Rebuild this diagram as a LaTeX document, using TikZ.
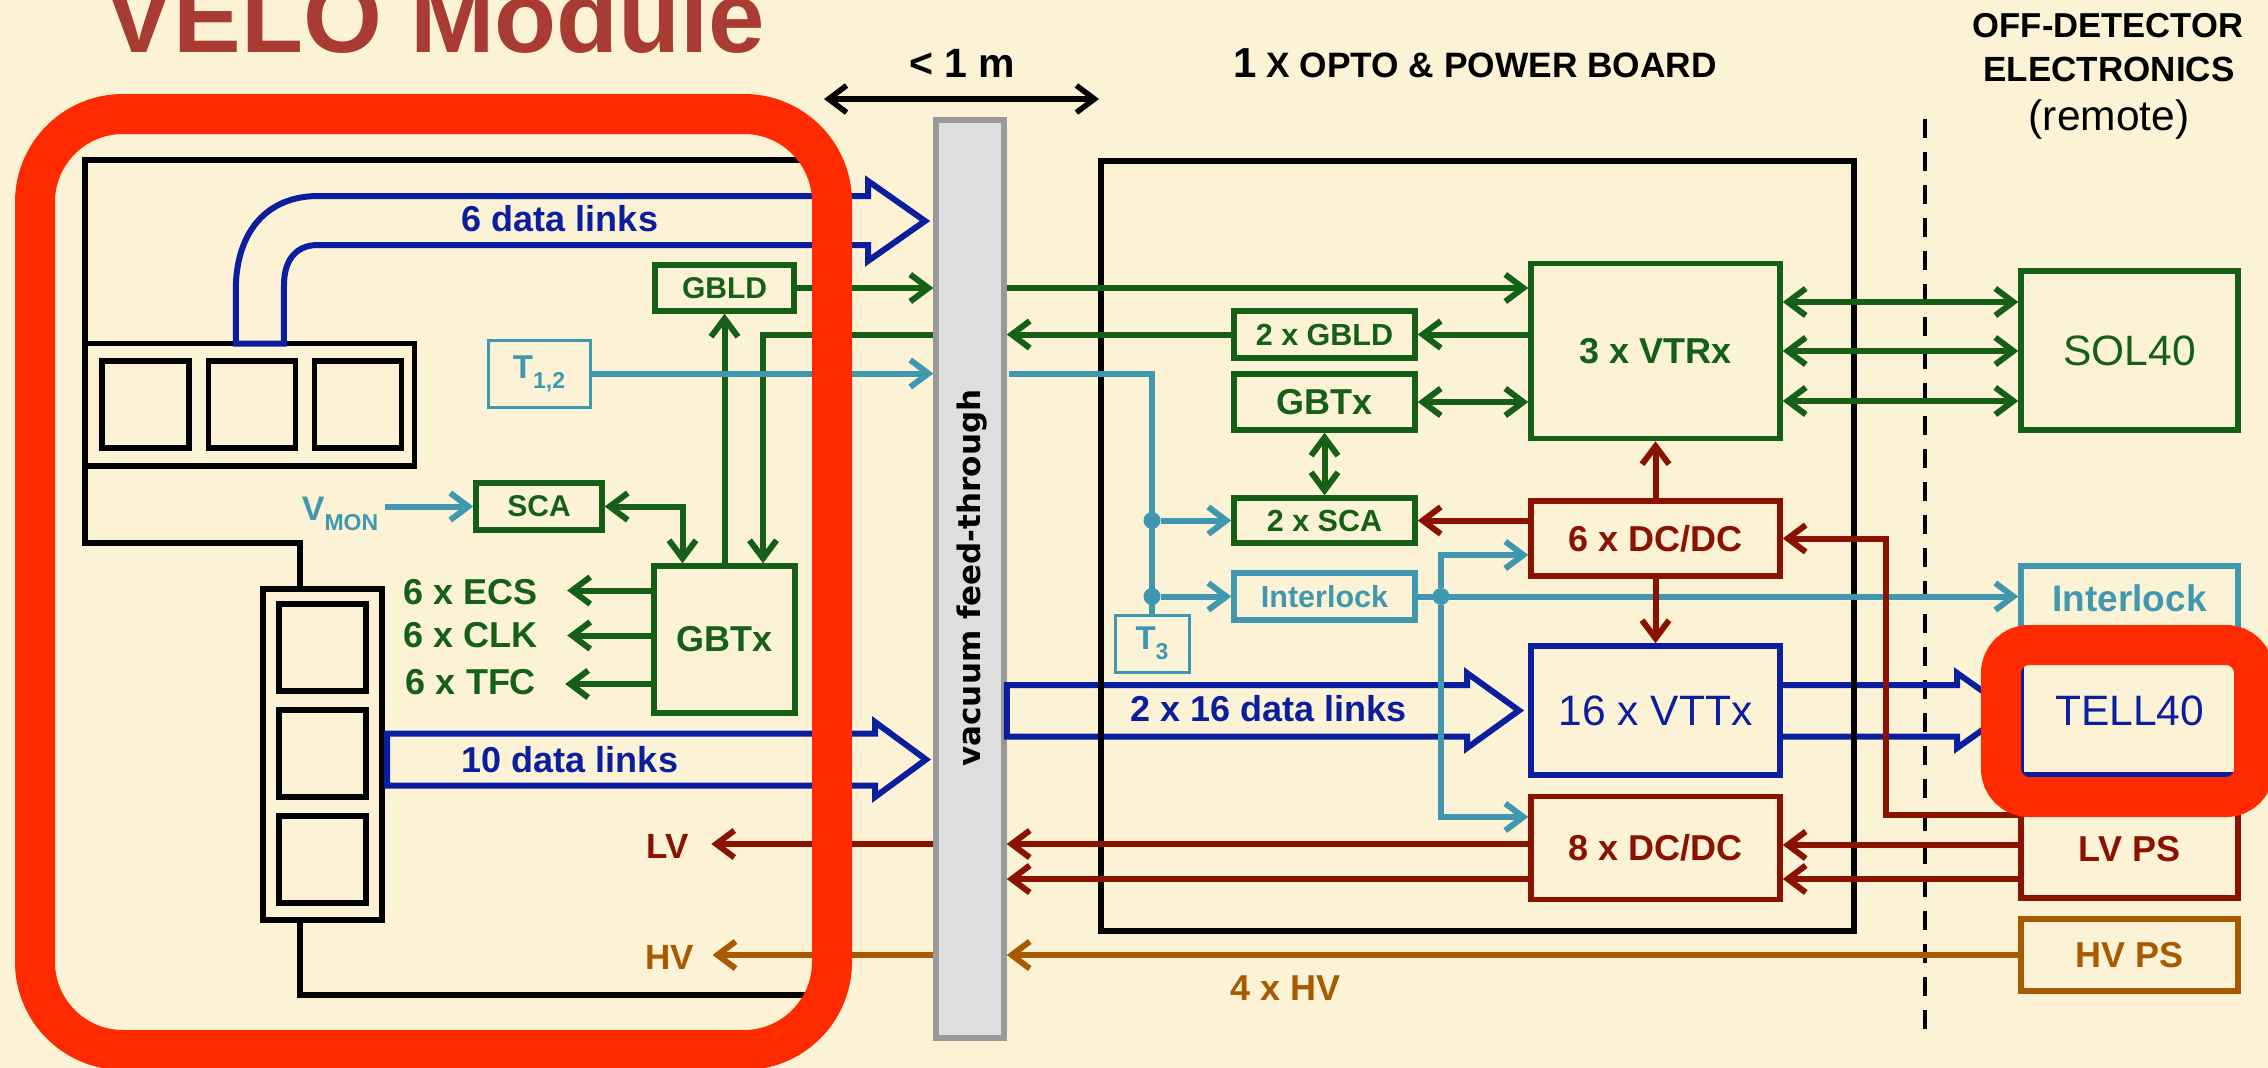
\documentclass[tikz,border=0pt]{standalone}
\usepackage{fontspec}
\setmainfont{Liberation Sans}
\newfontfamily\feedfont{DejaVu Sans}
\usepackage{tikz}
\usetikzlibrary{arrows.meta}
\definecolor{paper}{RGB}{252,243,214}
\definecolor{titlered}{RGB}{169,60,50}
\definecolor{framered}{RGB}{255,42,0}
\definecolor{modgreen}{RGB}{21,96,22}
\definecolor{modblue}{RGB}{10,30,158}
\definecolor{modteal}{RGB}{63,152,175}
\definecolor{modred}{RGB}{139,18,0}
\definecolor{modbrown}{RGB}{168,90,0}
\definecolor{feedgrey}{RGB}{222,222,222}
\newcommand{\fsz}[1]{\fontsize{#1}{#1}\selectfont}
\newcommand{\lowsub}[1]{\raisebox{-10pt}{\fsz{23}#1}}
\tikzset{
  >={Straight Barb[length=18pt,width=27pt]},
  lbl/.style = {anchor=base, inner sep=0pt, font=\fsz{36}\bfseries},
  boxnode/.style = {rectangle, inner sep=0pt, align=center, line width=5.5pt, font=\fsz{36}\bfseries},
  greenbox/.style = {boxnode, draw=modgreen, text=modgreen},
  redbox/.style = {boxnode, draw=modred, text=modred},
  tealbox/.style = {boxnode, draw=modteal, text=modteal},
  brownbox/.style = {boxnode, draw=modbrown, text=modbrown},
  bluebox/.style = {boxnode, draw=modblue, text=modblue, font=\fsz{42.5}},
  blackbox/.style = {rectangle, draw=black, line width=5.5pt, outer sep=0pt, inner sep=0pt},
  chipbox/.style = {blackbox, minimum width=87pt, minimum height=87pt},
  redframe/.style = {rectangle, draw=framered, line width=40pt, inner sep=0pt, outer sep=0pt},
  greenlink/.style = {draw=modgreen, line width=6pt},
  redlink/.style = {draw=modred, line width=6pt},
  teallink/.style = {draw=modteal, line width=6pt},
  brownlink/.style = {draw=modbrown, line width=6pt},
  bluelink/.style = {draw=modblue, line width=6pt, line join=miter},
  tealdot/.style = {circle, fill=modteal, inner sep=0pt, minimum size=17pt},
}
\begin{document}
\begin{tikzpicture}[x=1pt, y=-1pt]
\useasboundingbox (0,0) rectangle (2268,1068);
\clip (0,0) rectangle (2268,1068);
\fill[paper] (0,0) rectangle (2268,1068);

% Headings
\node[lbl, text=titlered, font=\fsz{101.5}\bfseries] (title) at (435.5,52) {VELO Module};
\node[lbl, font=\fsz{41}\bfseries] (span) at (962,77) {< 1 m};
\node[lbl, font=\fsz{35.3}\bfseries] (board) at (1475,77) {{\fsz{42}1} X OPTO \& POWER BOARD};
\node[lbl, font=\fsz{34.6}\bfseries] (offa) at (2108,37.5) {OFF-DETECTOR};
\node[lbl, font=\fsz{35}\bfseries] (offb) at (2109,81) {ELECTRONICS};
\node[lbl, font=\fsz{42.5}] (offc) at (2109,130.5) {(remote)};
\coordinate (spanl) at (824,99);
\coordinate (spanr) at (1099,99);
\draw[<->, line width=5.5pt] (spanl) -- (spanr);

% Separation line
\coordinate (septop) at (1925,119);
\coordinate (sepbot) at (1925,1039);
\draw[line width=3.5pt, dash pattern=on 19pt off 14pt] (septop) -- (sepbot);

% Feed-through
\node[rectangle, draw=gray!80, fill=feedgrey, line width=5.5pt, inner sep=0pt, minimum width=68pt, minimum height=918pt] (feed) at (970,579) {};
\node[rotate=90, inner sep=0pt, font=\feedfont\fsz{31}\bfseries] (feedlabel) at (972,578) {vacuum feed-through};

% Boxes of the left side
\node[blackbox, minimum width=329.5pt, minimum height=122.5pt] (hybh) at (249.75,404.75) {};
\node[chipbox] (chipa) at (145.5,404.5) {};
\node[chipbox] (chipb) at (252,404.5) {};
\node[chipbox] (chipc) at (358,404.5) {};
\node[blackbox, minimum width=119pt, minimum height=331pt] (hybv) at (322.5,754.5) {};
\node[chipbox] (chipd) at (322.5,647.5) {};
\node[chipbox] (chipe) at (322.5,753.5) {};
\node[chipbox] (chipf) at (322.5,859.5) {};
\node[greenbox, minimum width=139pt, minimum height=46pt, font=\fsz{30}\bfseries] (gbldl) at (724.5,288) {GBLD};
\node[greenbox, minimum width=141pt, minimum height=147pt] (gbtxl) at (724.5,639.5) {GBTx};
\node[greenbox, minimum width=126pt, minimum height=47pt, font=\fsz{30}\bfseries] (scal) at (539,506.5) {SCA};
\node[tealbox, line width=3pt, minimum width=102pt, minimum height=67pt, font=\fsz{33}\bfseries] (ttwo) at (539,373.5) {T\lowsub{1,2}};
\node[lbl, text=modteal, font=\fsz{34}\bfseries] (vmon) at (340,520) {V\lowsub{MON}};
\node[lbl, text=modgreen] (ecs) at (471,604) {6 x ECS};
\node[lbl, text=modgreen] (clk) at (471,647) {6 x CLK};
\node[lbl, text=modgreen] (tfc) at (471,694) {6 x TFC};
\node[lbl, text=modred, font=\fsz{35}\bfseries] (lvlab) at (668,858) {LV};
\node[lbl, text=modbrown, font=\fsz{35}\bfseries] (hvlab) at (670,969) {HV};

% Boxes of the board
\node[greenbox, minimum width=249pt, minimum height=175pt] (vtrx) at (1655.5,351) {3 x VTRx};
\node[greenbox, minimum width=181pt, minimum height=47pt, font=\fsz{30.5}\bfseries] (gbldr) at (1324.5,334.5) {2 x GBLD};
\node[greenbox, minimum width=181pt, minimum height=56pt] (gbtxr) at (1324.5,402) {GBTx};
\node[greenbox, minimum width=181pt, minimum height=45pt, font=\fsz{30.5}\bfseries] (scar) at (1324.5,520.5) {2 x SCA};
\node[tealbox, minimum width=181pt, minimum height=47pt, font=\fsz{30.5}\bfseries] (ilockm) at (1324.5,596.5) {Interlock};
\node[tealbox, line width=3pt, minimum width=74pt, minimum height=57pt, font=\fsz{33}\bfseries] (tthree) at (1152,643.5) {T\lowsub{3}};
\node[redbox, minimum width=249pt, minimum height=75pt] (dcsix) at (1655.5,538.5) {6 x DC/DC};
\node[bluebox, minimum width=249pt, minimum height=129pt] (vttx) at (1655.5,710.5) {16 x VTTx};
\node[redbox, minimum width=249pt, minimum height=103pt] (dceight) at (1655.5,848) {8 x DC/DC};

% Off-detector boxes
\node[greenbox, minimum width=217pt, minimum height=159pt, font=\fsz{42.5}] (sol) at (2129.5,350.5) {SOL40};
\node[tealbox, minimum width=217pt, minimum height=64pt, font=\fsz{37}\bfseries] (ilockr) at (2129.5,598) {Interlock};
\node[bluebox, minimum width=217pt, minimum height=129pt] (tell) at (2129.5,710.5) {TELL40};
\node[redbox, minimum width=217pt, minimum height=98pt] (lvps) at (2129.5,849) {LV PS};
\node[brownbox, minimum width=217pt, minimum height=72pt] (hvps) at (2129.5,955) {HV PS};

% Data links
\draw[bluelink] ([xshift=-14pt]hybh.north) -- ++(0,-53) .. controls +(0,-60) and +(-50,0) .. (318,196)
  -- (868,196) -- (868,181) -- (925,221) -- (868,261) -- (868,245) -- (318,245)
  .. controls +(-22,0) and +(0,-25) .. (284,285) -- ([xshift=34pt]hybh.north) -- cycle;
\node[lbl, text=modblue] (sixlinks) at (560,231.5) {6 data links};
\draw[bluelink] ([xshift=5pt,yshift=21pt]hybv.east) -- (875,733.5) -- (875,722) -- (926,759.5)
  -- (875,797) -- (875,785.5) -- ([xshift=5pt,yshift=-31pt]hybv.east) -- cycle;
\node[lbl, text=modblue] (tenlinks) at (570,772) {10 data links};
\draw[bluelink] ([yshift=25.5pt]vttx.west -| feed.east) -- (1467,685) -- (1467,673) -- (1519,710.5)
  -- (1467,748) -- (1467,736.5) -- ([yshift=-26pt]vttx.west -| feed.east) -- cycle;
\node[lbl, text=modblue] (twolinks) at (1268.5,721.5) {2 x 16 data links};
\draw[bluelink] ([yshift=25.5pt]vttx.east) -- (1957,685) -- (1957,673) -- (2010,710.5)
  -- (1957,748) -- (1957,736.5) -- ([yshift=-26pt]vttx.east);

% Module and board outlines
\coordinate (modtop) at (820,160);
\coordinate (modbot) at (820,994.5);
\draw[line width=6pt] (modtop) -| (hybh.north west);
\draw[line width=6pt] (hybh.south west) -- ++(0,77) -| ([xshift=-22.5pt]hybv.north);
\draw[line width=6pt] ([xshift=-22.5pt]hybv.south) |- (modbot);
\node[blackbox, line width=6pt, minimum width=753pt, minimum height=770pt] (board) at (1477,546) {};

% Green links
\draw[greenlink, ->] (gbtxl.north) -- (gbldl.south);
\draw[greenlink, ->] (feed.west |- gbldr) -| ([xshift=38.5pt]gbtxl.north);
\draw[greenlink, <->] (scal.east) -| ([xshift=-42pt]gbtxl.north);
\draw[greenlink, ->] (gbldl.east) -- (gbldl.east -| feed.west);
\draw[greenlink, ->] (feed.east |- gbldl) -- (vtrx.west |- gbldl);
\draw[greenlink, ->] (gbldr.west) -- (gbldr.west -| feed.east);
\draw[greenlink, ->] (vtrx.west |- gbldr) -- (gbldr.east);
\draw[greenlink, <->] (gbtxr.east) -- (gbtxr.east -| vtrx.west);
\draw[greenlink, <->] (gbtxr.south) -- (scar.north);
\draw[greenlink, <->] ([yshift=49pt]vtrx.east) -- ([yshift=49pt]vtrx.east -| sol.west);
\draw[greenlink, <->] (vtrx.east) -- (vtrx.east -| sol.west);
\draw[greenlink, <->] ([yshift=-50pt]vtrx.east) -- ([yshift=-50pt]vtrx.east -| sol.west);
\draw[greenlink, ->, shorten >=29pt] ([yshift=49pt]gbtxl.west) -- ([yshift=49pt]gbtxl.west -| ecs.east);
\draw[greenlink, ->, shorten >=29pt] ([yshift=4pt]gbtxl.west) -- ([yshift=4pt]gbtxl.west -| clk.east);
\draw[greenlink, ->, shorten >=29pt] ([yshift=-44.5pt]gbtxl.west) -- ([yshift=-44.5pt]gbtxl.west -| tfc.east);

% Teal links
\draw[teallink, ->, shorten <=7pt] (vmon.east |- scal.west) -- (scal.west);
\draw[teallink, ->] (ttwo.east) -- (ttwo.east -| feed.west);
\draw[teallink] ([xshift=2pt]feed.east |- ttwo) -| (tthree.north);
\node[tealdot] (dota) at (tthree |- scar) {};
\node[tealdot] (dotb) at (tthree |- ilockm) {};
\node[tealdot] (dotc) at (1441,596.5) {};
\draw[teallink, ->] (dota) -- (scar.west);
\draw[teallink, ->] (dotb) -- (ilockm.west);
\draw[teallink, ->] (ilockm.east) -- (ilockm.east -| ilockr.west);
\draw[teallink, <-] ([yshift=-16.5pt]dcsix.west) -| (dotc);
\draw[teallink, ->] (dotc) |- ([yshift=31pt]dceight.west);

% Power links
\coordinate (lvbend) at (1886,538.5);
\draw[redlink, ->] ([yshift=34pt]lvps.west) -| (lvbend) -- (dcsix.east);
\draw[redlink, ->] (dcsix.north) -- (vtrx.south);
\draw[redlink, ->] (dcsix.south) -- (vttx.north);
\draw[redlink, ->] ([yshift=18pt]dcsix.west) -- ([yshift=18pt]dcsix.west -| scar.east);
\draw[redlink, ->] ([yshift=4pt]lvps.west) -- ([yshift=4pt]lvps.west -| dceight.east);
\draw[redlink, ->] ([yshift=-30pt]lvps.west) -- ([yshift=-30pt]lvps.west -| dceight.east);
\draw[redlink, ->] ([yshift=4pt]dceight.west) -- ([yshift=4pt]dceight.west -| feed.east);
\draw[redlink, ->] ([yshift=-31pt]dceight.west) -- ([yshift=-31pt]dceight.west -| feed.east);
\draw[redlink, ->, shorten >=22pt] ([yshift=4pt]dceight.west -| feed.west) -- ([yshift=4pt]dceight.west -| lvlab.east);
\draw[brownlink, ->] (hvps.west) -- (hvps.west -| feed.east);
\draw[brownlink, ->, shorten >=18pt] (hvps.west -| feed.west) -- (hvps.west -| hvlab.east);
\node[lbl, text=modbrown] (fourhv) at (1285.5,1000) {4 x HV};

% Red frames
\node[redframe, rounded corners=88pt, minimum width=797pt, minimum height=936pt] (veloframe) at (433.5,582) {};
\node[redframe, rounded corners=28pt, minimum width=253pt, minimum height=152pt] (tellframe) at (2127.5,721) {};
\end{tikzpicture}
\end{document}
